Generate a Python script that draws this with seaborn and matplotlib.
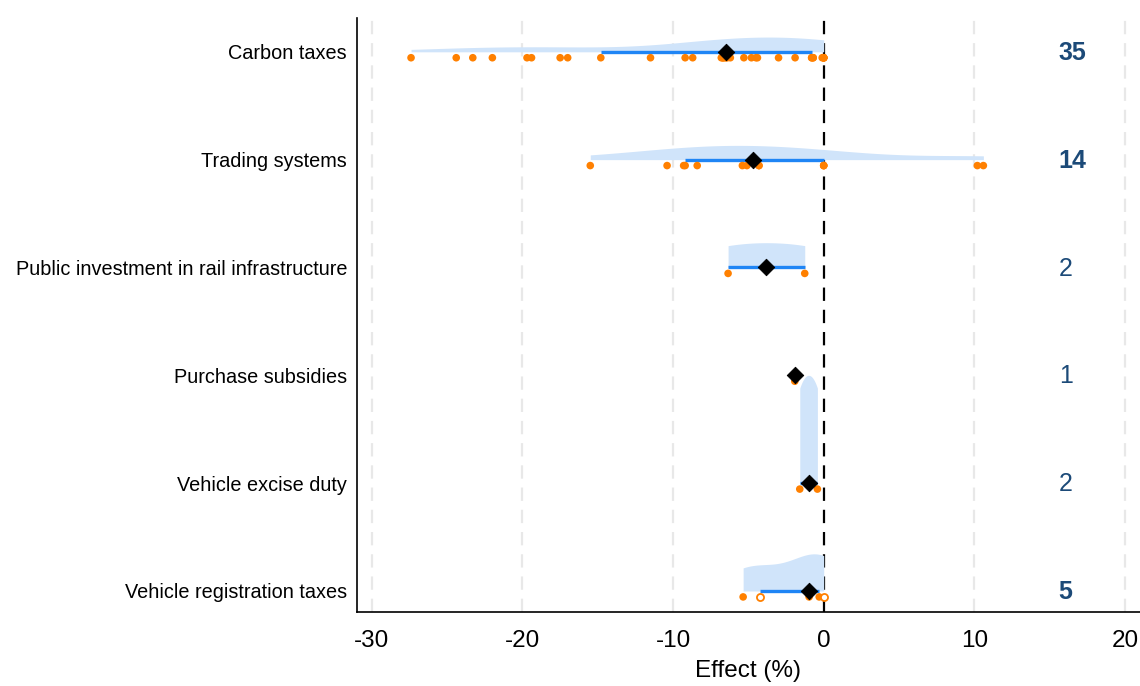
import numpy as np
import pandas as pd
import matplotlib
matplotlib.use("Agg")
import matplotlib.pyplot as plt
import seaborn as sns

sns.set_style("white")
plt.rcParams['font.family'] = ['Liberation Sans', 'DejaVu Sans']
plt.rcParams['text.color'] = 'black'
plt.rcParams['xtick.color'] = 'black'
plt.rcParams['ytick.color'] = 'black'
plt.rcParams['axes.labelcolor'] = 'black'

# ---------------- data ----------------
categories = ["Carbon taxes", "Trading systems", "Public investment in rail infrastructure",
              "Purchase subsidies", "Vehicle excise duty", "Vehicle registration taxes"]
counts = [35, 14, 2, 1, 2, 5]

carbon_taxes = [-27.4, -24.4, -23.3, -22.0, -19.7, -19.4, -17.5, -17.0, -14.8, -11.5,
                -9.2, -8.7, -6.8, -6.7, -6.7, -6.6, -6.5, -6.4, -6.2, -5.3,
                -4.8, -4.5, -4.4, -3.0, -1.9, -0.8, -0.8, -0.7, -0.7, -0.1,
                0.0, 0.0, 0.0, 0.0, 0.0]
trading_systems = [-15.5, -10.4, -9.3, -9.2, -8.4, -5.4, -5.1, -4.3, -4.3, 0.0, 0.0, 0.0, 10.2, 10.6]
rail_investment = [-6.35, -1.26]
purchase_subsidies = [-1.92]
excise_duty = [-1.59, -0.42]
registration_taxes = [-5.35, -4.25, -0.97, -0.3, 0.0]
registration_hollow = [False, True, False, False, True]

medians = [-6.5, -4.7, -3.8, -1.92, -0.97, -0.97]
iqr_low = [-14.8, -9.2, -6.35, -1.92, -1.59, -4.25]
iqr_high = [-0.75, 0.0, -1.26, -1.92, -0.42, -0.3]

xticks = [-30, -20, -10, 0, 10, 20]

# ---------------- frames ----------------
series = [carbon_taxes, trading_systems, rail_investment, purchase_subsidies,
          excise_duty, registration_taxes]
rows = []
for i, (cat, vals) in enumerate(zip(categories, series)):
    hollow = registration_hollow if cat == "Vehicle registration taxes" else [False] * len(vals)
    for v, h in zip(vals, hollow):
        rows.append({"category": cat, "idx": i, "value": v, "hollow": h})
df = pd.DataFrame(rows)
stats = pd.DataFrame({"category": categories, "idx": range(len(categories)),
                      "median": medians, "lo": iqr_low, "hi": iqr_high, "n": counts})


def scott_kde(vals, grid):
    vals = np.asarray(vals, float)
    n = len(vals)
    bw = np.std(vals, ddof=1) * n ** (-1 / 5)
    z = (grid[:, None] - vals[None, :]) / bw
    return np.exp(-0.5 * z ** 2).sum(axis=1) / (n * bw * np.sqrt(2 * np.pi))


# half-violins (density normalised by area, cut at data range)
curves = []
for i, vals in enumerate(series):
    if len(vals) < 2:
        continue
    g = np.linspace(min(vals), max(vals), 300)
    curves.append((i, g, scott_kde(vals, g)))
max_d = max(c[2].max() for c in curves)
violin_height = 1.0

# ---------------- figure ----------------
fig = plt.figure(figsize=(11.4, 6.86), dpi=100)
ax = fig.add_axes([0.313, 0.108, 0.687, 0.866])

for i, g, d in curves:
    ax.fill_between(g, i, i - d / max_d * violin_height, color="#d0e4fa", lw=0, zorder=2)

# grid lines
for t in xticks:
    if t != 0:
        ax.axvline(t, color="#e8e8e8", lw=1.6, ls=(0, (6, 4)), zorder=0)
ax.axvline(0, color="black", lw=1.6, ls=(0, (6, 4)), zorder=1)

# IQR lines
ax.hlines(stats["idx"], stats["lo"], stats["hi"], color="#1f85f5", lw=2.4, zorder=3)

# points
dot_off = 0.055
filled = df[~df["hollow"]]
hollow = df[df["hollow"]]
sns.scatterplot(x=filled["value"], y=filled["idx"] + dot_off, color="#ff8000",
                s=30, edgecolor="none", ax=ax, zorder=4, legend=False)
sns.scatterplot(x=hollow["value"], y=hollow["idx"] + dot_off, facecolor="white",
                edgecolor="#ff8000", linewidth=1.3, s=26, ax=ax, zorder=4, legend=False)

# medians
sns.scatterplot(data=stats, x="median", y="idx", marker="D", color="black",
                s=70, edgecolor="black", ax=ax, zorder=5, legend=False)

# counts
for i, n in enumerate(counts):
    ax.text(15.6, i + 0.01, str(n), ha="left", va="center", fontsize=18,
            color="#1c4a78", fontweight="bold" if n >= 5 else "normal")

ax.set_xlim(-31, 21)
ax.set_ylim(5.194, -0.315)
ax.set_xticks(xticks)
ax.set_xticklabels([str(t) for t in xticks], fontsize=17.5)
ax.set_yticks(range(len(categories)))
ax.set_yticklabels(categories, fontsize=14.3)
ax.set_xlabel("Effect (%)", fontsize=17.5, labelpad=6)
ax.set_ylabel("")
ax.tick_params(axis="x", length=6, width=1, color="black", pad=7)
ax.tick_params(axis="y", length=0, pad=7)
for side in ["top", "right"]:
    ax.spines[side].set_visible(False)
for side in ["left", "bottom"]:
    ax.spines[side].set_color("black")
    ax.spines[side].set_linewidth(1.2)

fig.savefig("out.png", dpi=100)
